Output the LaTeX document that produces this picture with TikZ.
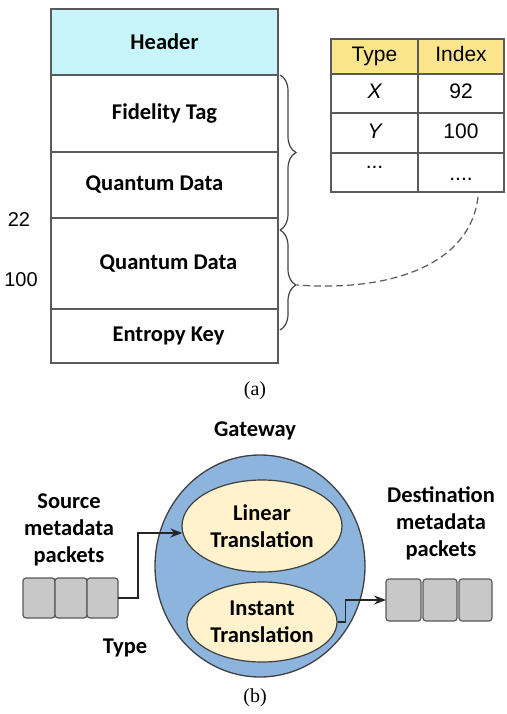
\documentclass[tikz,border=0pt]{standalone}
\usepackage{fontspec}
\setmainfont{Liberation Serif}
\newfontfamily\calibri{Carlito}
\newfontfamily\arial{Liberation Sans}
\usetikzlibrary{shapes.geometric}
\usetikzlibrary{arrows.meta}
\usetikzlibrary{decorations.pathreplacing}
\usetikzlibrary{positioning}
\definecolor{headcyan}{RGB}{200,245,250}
\definecolor{headyellow}{RGB}{250,228,140}
\definecolor{gateblue}{RGB}{141,180,220}
\definecolor{creamish}{RGB}{255,242,204}
\definecolor{packetgray}{RGB}{200,200,200}
\definecolor{edgegray}{RGB}{90,90,90}
\tikzset{%
  field/.style={rectangle, draw=edgegray, line width=1.2pt, outer sep=0pt, inner sep=0pt, minimum width=227pt, font=\calibri\bfseries\fontsize{22.5}{26}\selectfont},
  cell/.style={rectangle, draw=edgegray, line width=1.2pt, outer sep=0pt, inner sep=0pt, text height=15pt, text depth=4pt, font=\arial\fontsize{21}{24}\selectfont},
  numtext/.style={font=\arial\fontsize{20}{24}\selectfont},
  labeltext/.style={align=center, font=\calibri\bfseries\fontsize{22.5}{27}\selectfont},
  transl/.style={ellipse, draw=black!75, fill=creamish, line width=1.2pt, inner sep=0pt, align=center, font=\calibri\bfseries\fontsize{22.5}{27}\selectfont},
  packet/.style={rectangle, rounded corners=3pt, draw=black!65, fill=packetgray, line width=1.2pt, outer sep=0pt},
  fieldbrace/.style={decorate, decoration={brace, amplitude=16pt}, draw=black!75, line width=1.2pt},
  flow/.style={-{Stealth[length=12pt,width=9pt]}, line width=1.3pt, draw=black!85},
  caption/.style={font=\fontsize{20}{24}\selectfont}
}
\begin{document}
\begin{tikzpicture}[x=1pt, y=-1pt]
  \useasboundingbox (0,0) rectangle (506,714);

  % (a) packet layout
  \node [field, fill=headcyan, minimum height=66pt] (hdr) at (164.5,42) {Header};
  \node [field, minimum height=77pt, below=0pt of hdr] (fid) {Fidelity Tag};
  \node [field, minimum height=66pt, below=0pt of fid] (qd1) {\hspace*{-20pt}Quantum Data};
  \node [field, minimum height=91pt, below=0pt of qd1] (qd2) {\hspace*{8pt}Quantum Data};
  \node [field, minimum height=54pt, below=0pt of qd2] (ent) {\hspace*{8pt}Entropy Key};

  \node [numtext] (n22)  at (19,220) {22};
  \node [numtext] (n100) at (21,280) {100};

  \draw [fieldbrace] ([xshift=2pt]fid.north east) -- ([xshift=2pt,yshift=-12pt]qd1.south east);
  \draw [fieldbrace, decoration={aspect=0.55}] ([xshift=2pt,yshift=-12pt]qd1.south east) -- ([xshift=2pt,yshift=-21pt]qd2.south east);
  \coordinate (tip2) at (297,285);

  % lookup table
  \node [cell, fill=headyellow, minimum width=87pt, minimum height=35pt] (ty) at (374.5,56.5) {Type};
  \node [cell, fill=headyellow, minimum width=86pt, minimum height=35pt, right=0pt of ty] (ix) {Index};
  \node [cell, minimum width=87pt, minimum height=39pt, below=0pt of ty]  (tx)  {\itshape X};
  \node [cell, minimum width=86pt, minimum height=39pt, below=0pt of ix]  (i92) {92};
  \node [cell, minimum width=87pt, minimum height=40pt, below=0pt of tx]  (tyy) {\itshape Y};
  \node [cell, minimum width=86pt, minimum height=40pt, below=0pt of i92] (i100) {100};
  \node [cell, minimum width=87pt, minimum height=39pt, below=0pt of tyy]  (dt1) {\raisebox{9pt}{...}};
  \node [cell, minimum width=86pt, minimum height=39pt, below=0pt of i100] (dt2) {\raisebox{-3pt}{....}};

  \draw [edgegray, line width=1.2pt, dash pattern=on 7pt off 4pt]
    ([xshift=17pt,yshift=-5pt]dt2.south) .. controls (470,265) and (390,292) .. (tip2);

  \node [caption] (capa) at (255,391) {(a)};

  % (b) gateway
  \node [labeltext] (gwlabel) at (255,431) {Gateway};
  \node [ellipse, draw=black!75, fill=gateblue, line width=1.3pt, minimum width=210pt, minimum height=222pt] (gw) at (260,566) {};
  \node [transl, minimum width=160pt, minimum height=92pt] (lin) at (262,526) {Linear\\Translation};
  \node [transl, minimum width=150pt, minimum height=80pt] (ins) at (262,622) {Instant\\Translation};

  \node [packet, minimum width=32pt, minimum height=40pt] (p1) at (39,598) {};
  \node [packet, minimum width=32pt, minimum height=40pt, right=0pt of p1] (p2) {};
  \node [packet, minimum width=31pt, minimum height=40pt, right=0pt of p2] (p3) {};
  \node [packet, minimum width=35pt, minimum height=42pt] (q1) at (403.5,600) {};
  \node [packet, minimum width=34pt, minimum height=42pt, right=2pt of q1] (q2) {};
  \node [packet, minimum width=33pt, minimum height=42pt, right=2pt of q2] (q3) {};

  \node [labeltext] (srclabel) at (69,530) {Source\\metadata\\packets};
  \node [labeltext] (dstlabel) at (441,523) {Destination\\metadata\\packets};
  \node [labeltext] (typelabel) at (125,648) {Type};

  \draw [flow] (p3.east) -- ++(20,0) |- (lin.185);
  \draw [flow] (ins.east) -- ++(8,0) |- (q1.west);

  \node [caption] (capb) at (255,698) {(b)};
\end{tikzpicture}
\end{document}
